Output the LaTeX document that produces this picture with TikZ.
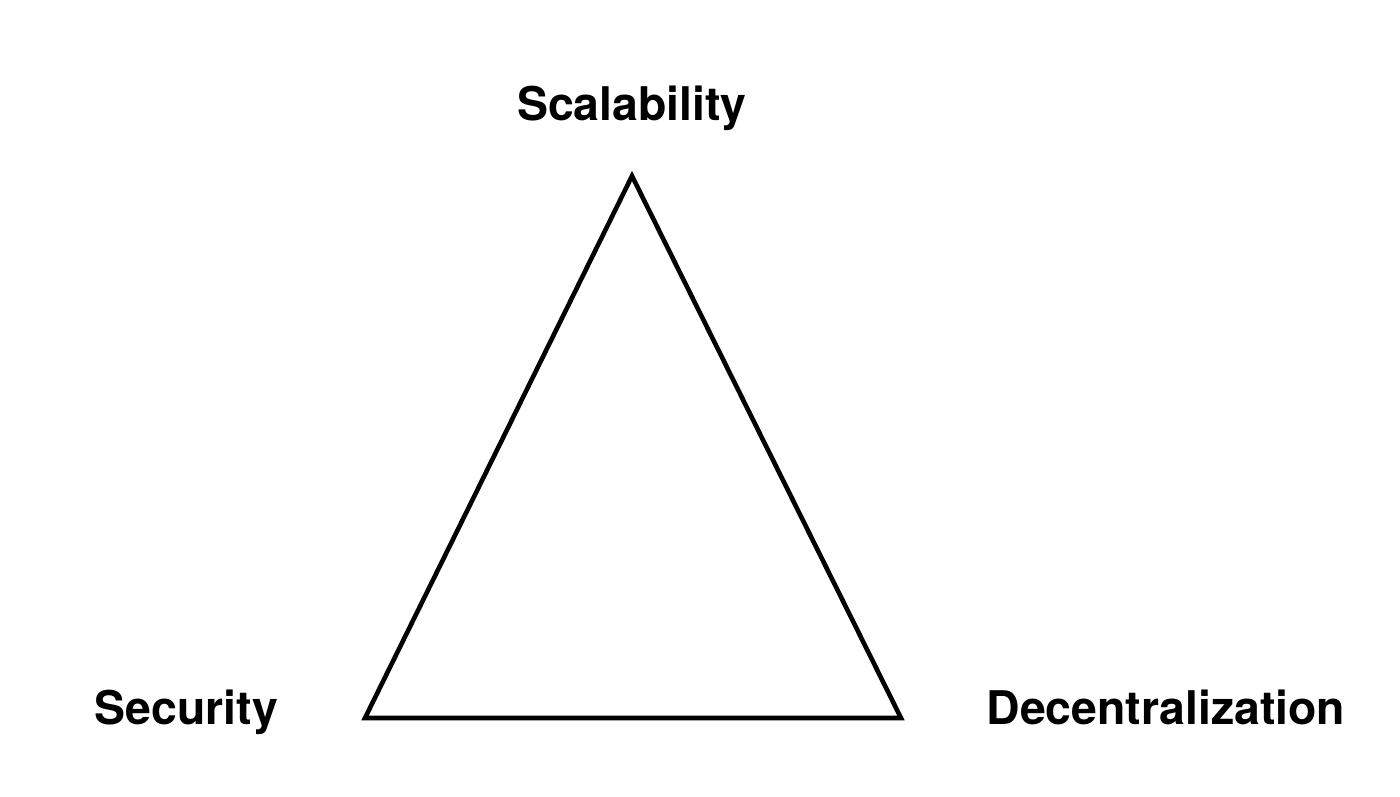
\documentclass[tikz,border=0pt]{standalone}
\usepackage{fontspec}
\setmainfont{TeX Gyre Heros}
\begin{document}
\begin{tikzpicture}[x=1pt,y=-1pt,
  lbl/.style={font=\fontsize{46.4}{50}\selectfont\bfseries, anchor=base, inner sep=0pt},
  edge/.style={line width=4.6pt, line join=miter}]
\useasboundingbox (0,0) rectangle (1400,796);
\coordinate (top) at (632,176);
\coordinate (bl) at (365,718);
\coordinate (br) at (901,718);
\draw[edge] (top) -- (bl) -- (br) -- cycle;
\node[lbl] (scal) at (632,120) {Scalability};
\node[lbl] (sec) at (186.5,724) {Security};
\node[lbl] (dec) at (1166,724) {Decentralization};
\end{tikzpicture}
\end{document}
